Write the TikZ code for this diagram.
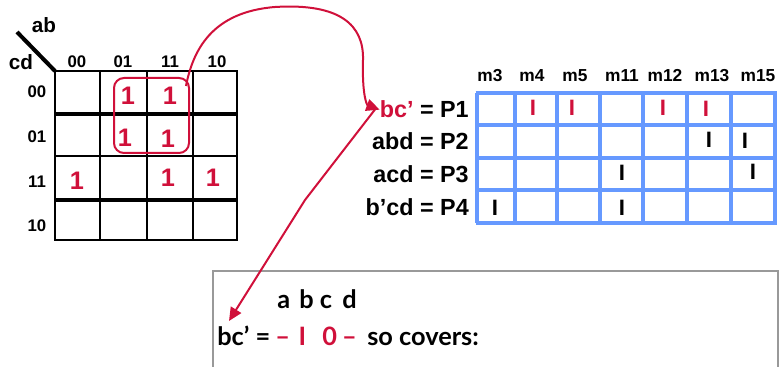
\documentclass[tikz,border=0pt]{standalone}
\usepackage{fontspec}
\setmainfont{Liberation Sans}
\newfontfamily\gillfont{Lato}
\usetikzlibrary{arrows.meta,calc}
\definecolor{myred}{RGB}{208,16,58}
\definecolor{tblue}{RGB}{102,153,255}
\definecolor{boxgray}{RGB}{153,153,153}
\begin{document}
\begin{tikzpicture}[x=0.75pt,y=-0.75pt,
  klbl/.style={font=\bfseries\fontsize{12.6}{14}\selectfont, inner sep=0, anchor=base},
  kvar/.style={font=\bfseries\fontsize{15.5}{18}\selectfont, inner sep=0, anchor=base},
  kone/.style={font=\bfseries\fontsize{19}{21}\selectfont, text=myred, inner sep=0, anchor=base},
  mhdr/.style={font=\bfseries\fontsize{13}{15}\selectfont, inner sep=0, anchor=base},
  plbl/.style={font=\bfseries\fontsize{17.5}{20}\selectfont, inner sep=0, anchor=base east},
  cellmark/.style={font=\bfseries\fontsize{16.7}{18}\selectfont, inner sep=0, anchor=base},
  redmark/.style={cellmark, text=myred},
  boxtxt/.style={font=\gillfont\bfseries\fontsize{19}{21}\selectfont, inner sep=0, anchor=base west},
  redline/.style={draw=myred, line width=1.5pt},
  redtip/.style={-{Triangle[length=10pt,width=9pt]}},
  tline/.style={draw=tblue, line width=3pt}
]
\useasboundingbox (0,0) rectangle (782,367);
\clip (0,0) rectangle (782,367);

% ---------- K-map ----------
\draw[line width=1.5pt] (55,71) rectangle (237,240);
\foreach \x in {100,147,193} \draw[line width=1.9pt] (\x,71) -- (\x,240);
\draw[line width=2.3pt] (55,114) -- (237,114);
\draw[line width=1.9pt] (55,156) -- (237,156);
\draw[line width=3pt] (55,200) -- (237,200);
\draw[line width=3pt] (17,32) -- (55,71);

\node[kvar] (ab) at (44,33) {ab};
\node[kvar] (cd) at (21,70) {cd};
\node[klbl] (c00) at (77,68) {00};
\node[klbl] (c01) at (123,68) {01};
\node[klbl] (c11) at (170,68) {11};
\node[klbl] (c10) at (217,68) {10};
\node[klbl] (r00) at (37,98) {00};
\node[klbl] (r01) at (37,143) {01};
\node[klbl] (r11) at (37,188) {11};
\node[klbl] (r10) at (37,232) {10};

\node[kone] (k1) at (128,105) {1};
\node[kone] (k2) at (170,105) {1};
\node[kone] (k3) at (125,147) {1};
\node[kone] (k4) at (168,148) {1};
\node[kone] (k5) at (77,190) {1};
\node[kone] (k6) at (168,187) {1};
\node[kone] (k7) at (213,187) {1};

\draw[redline, rounded corners=7.5pt] (114,78) rectangle (189,153);
\coordinate (cs) at (186,86);

% ---------- table ----------
\foreach \x in {477,515,557,600,643,687,731,775} \draw[tline] (\x,93) -- (\x,223);
\foreach \y in {93,125,158,190,223} \draw[tline] (475.5,\y) -- (776.5,\y);

\node[mhdr] (m3) at (490,82) {m3};
\node[mhdr] (m4) at (532,82) {m4};
\node[mhdr] (m5) at (575,82) {m5};
\node[mhdr] (m11) at (622,82) {m11};
\node[mhdr] (m12) at (665,82) {m12};
\node[mhdr] (m13) at (712,82) {m13};
\node[mhdr] (m15) at (758,82) {m15};

\node[plbl] (p1) at (469,118) {\textcolor{myred}{bc’} = P1};
\node[plbl] (p2) at (469,150) {abd = P2};
\node[plbl] (p3) at (469,183) {acd = P3};
\node[plbl] (p4) at (469,216) {b’cd = P4};

\node[redmark] (x1) at (533,116) {I};
\node[redmark] (x2) at (572,116) {I};
\node[redmark] (x3) at (663,116) {I};
\node[redmark] (x4) at (706,117) {I};
\node[cellmark] (x5) at (709,148) {I};
\node[cellmark] (x6) at (745,149) {I};
\node[cellmark] (x7) at (622,181) {I};
\node[cellmark] (x8) at (753,180) {I};
\node[cellmark] (x9) at (495,215) {I};
\node[cellmark] (x10) at (622,216) {I};

% ---------- bottom box ----------
\draw[boxgray, line width=1.5pt] (213,271) rectangle (778,400);
\node[boxtxt] (abcd) at (277,308) {a\hspace{0.36em}b\hspace{0.25em}c\hspace{0.4em}d};
\node[boxtxt] (bcB) at (217,345) {bc’ =};
\node[boxtxt, text=myred] (cube) at (275,345) {– \hspace{0.1em}I \hspace{0.4em}0\hspace{-0.05em} –};
\node[boxtxt] (covers) at (367,345) {so covers:};

% ---------- arrows ----------
\coordinate (v) at (305,200);
\draw[redline, redtip] (cs) .. controls (193,50) and (212,12) .. (275,7)
  .. controls (340,3) and (364,25) .. (363,60)
  .. controls (362,96) and (367,105) .. (p1.west);
\draw[redline, redtip] ($(p1.west)+(-4,-1)$) -- (v) -- ($(bcB.base west)+(12,-24)$);
\end{tikzpicture}
\end{document}
